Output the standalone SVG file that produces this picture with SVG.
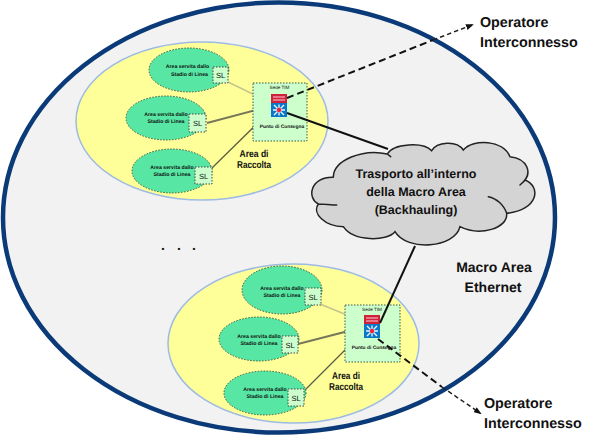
<svg xmlns="http://www.w3.org/2000/svg" width="594" height="444" viewBox="0 0 594 444">
<style>
text{font-family:"Liberation Sans",Arial,sans-serif;fill:#111;text-rendering:geometricPrecision}
.area{fill:#ffff99;stroke:#9dbbe3;stroke-width:1.5}
.serv{fill:#57e6a3;stroke:#3a5a48;stroke-width:1;stroke-dasharray:1.5 1.5}
.sl{fill:#ccffcc;stroke:#444;stroke-width:1;stroke-dasharray:1.5 1.5}
.pop{fill:#ccffcc;stroke:#3a5a48;stroke-width:1;stroke-dasharray:1.5 1.5}
.t5{font-size:5.2px;font-weight:bold;text-anchor:middle}
.tp{font-size:4.9px;font-weight:bold;text-anchor:middle}
.ts{font-size:4.6px;text-anchor:middle}
.t7{font-size:7.5px;text-anchor:middle}
.t10{font-size:10px;font-weight:bold;text-anchor:middle}
.tc{font-size:12.5px;font-weight:bold;text-anchor:middle}
.tm{font-size:14px;font-weight:bold;text-anchor:middle}
.to{font-size:14.300px;font-weight:bold}
.l1{stroke:#c4c48e;stroke-width:1.5;fill:none}
.l2{stroke:#77775a;stroke-width:2;fill:none}
.l3{stroke:#5e5e48;stroke-width:1.3;fill:none}
.k{stroke:#111;stroke-width:2;fill:none}
.d{stroke:#111;stroke-width:2;stroke-dasharray:7 4;fill:none}
.d2{stroke:#222;stroke-width:1.5;stroke-dasharray:4.500 3;fill:none}
.cl{stroke:#222;stroke-width:4.500;fill:none;stroke-linecap:round}
</style>
<defs>
<marker id="arr" markerWidth="8" markerHeight="6" refX="6" refY="3" orient="auto" markerUnits="userSpaceOnUse"><path d="M0 0L8 3L0 6Z" fill="#111"/></marker>
<g id="router">
<rect x="0" y="0" width="16" height="9" fill="#d0203a"/>
<path d="M2 3H14M2 6H14" stroke="#f8d0d6" stroke-width="1"/>
<rect x="0" y="9" width="16" height="14" fill="#0a78c8"/>
<path d="M8 16L3 11M8 16L13 11M8 16L3 21M8 16L13 21M8 16H2M8 16H14M8 16V10.500M8 16V21.500" stroke="#f0f8ff" stroke-width="1.300"/>
<circle cx="8" cy="16" r="2.200" fill="#f0203a"/>
</g>
</defs>
<g id="macro-area">
<ellipse cx="279" cy="217.500" rx="276" ry="215" fill="#f2f2f2" stroke="#0a3a78" stroke-width="4.500"/>
</g>
<g id="area-top"><ellipse class="area" cx="202" cy="121" rx="126" ry="79"/></g>
<g id="area-bottom"><ellipse class="area" cx="293.500" cy="343.500" rx="125.500" ry="79.500"/></g>
<g id="connectors">
<path class="l1" d="M228 82L271 103"/>
<path class="l2" d="M207 123L271 106"/>
<path class="l3" d="M212 168L271 110"/>
<path class="l1" d="M320 304L364 322"/>
<path class="l2" d="M298 344L364 327"/>
<path class="l3" d="M304 391L364 331"/>
</g>
<g id="serv-t1"><ellipse class="serv" cx="189" cy="70" rx="40" ry="22"/><text class="t5" x="187.500" y="68">Area servita dallo</text><text class="t5" x="189.500" y="76">Stadio di Linea</text></g>
<g id="serv-t2"><ellipse class="serv" cx="166" cy="118" rx="40" ry="22"/><text class="t5" x="166" y="116">Area servita dallo</text><text class="t5" x="166" y="123">Stadio di Linea</text></g>
<g id="serv-t3"><ellipse class="serv" cx="172" cy="171" rx="40" ry="22"/><text class="t5" x="172" y="169">Area servita dallo</text><text class="t5" x="172" y="176">Stadio di Linea</text></g>
<g id="sl-t1"><rect class="sl" x="213" y="67" width="15" height="16"/><text class="t7" x="220.500" y="78">SL</text></g>
<g id="sl-t2"><rect class="sl" x="189" y="114" width="17" height="18"/><text class="t7" x="197.500" y="126">SL</text></g>
<g id="sl-t3"><rect class="sl" x="195" y="167" width="17" height="17"/><text class="t7" x="203.500" y="179">SL</text></g>
<g id="pop-top"><rect class="pop" x="253" y="83" width="54" height="58"/><text class="ts" x="279.500" y="89">Sede TIM</text><use href="#router" x="271" y="94"/><text class="tp" x="282" y="128">Punto di Consegna</text></g>
<g id="label-top"><text class="t10" x="254" y="157" textLength="29" lengthAdjust="spacingAndGlyphs">Area di</text><text class="t10" x="254" y="168" textLength="34" lengthAdjust="spacingAndGlyphs">Raccolta</text></g>
<g id="serv-b1"><ellipse class="serv" cx="282" cy="290" rx="40" ry="24"/><text class="t5" x="282" y="290">Area servita dallo</text><text class="t5" x="282" y="297">Stadio di Linea</text></g>
<g id="serv-b2"><ellipse class="serv" cx="259" cy="339" rx="40" ry="22"/><text class="t5" x="259" y="338">Area servita dallo</text><text class="t5" x="259" y="345">Stadio di Linea</text></g>
<g id="serv-b3"><ellipse class="serv" cx="265" cy="393" rx="41" ry="22"/><text class="t5" x="265" y="391">Area servita dallo</text><text class="t5" x="265" y="398">Stadio di Linea</text></g>
<g id="sl-b1"><rect class="sl" x="305" y="288" width="16" height="17"/><text class="t7" x="313" y="300">SL</text></g>
<g id="sl-b2"><rect class="sl" x="282" y="336" width="16" height="17"/><text class="t7" x="290" y="348">SL</text></g>
<g id="sl-b3"><rect class="sl" x="288" y="389" width="16" height="17"/><text class="t7" x="296" y="401">SL</text></g>
<g id="pop-bottom"><rect class="pop" x="345" y="305" width="55" height="57"/><text class="ts" x="372" y="311">Sede TIM</text><use href="#router" x="364" y="315"/><text class="tp" x="374" y="349">Punto di Consegna</text></g>
<g id="label-bottom"><text class="t10" x="346" y="379" textLength="28" lengthAdjust="spacingAndGlyphs">Area di</text><text class="t10" x="346" y="390" textLength="34" lengthAdjust="spacingAndGlyphs">Raccolta</text></g>
<g id="links">
<path class="k" d="M287 113L388 149"/>
<path class="k" d="M380 323L415 246"/>
<path class="d" d="M287 98L433 40"/>
<path class="d2" d="M433 40L472 25" marker-end="url(#arr)"/>
<path class="d" d="M378 339L442 387"/>
<path class="d2" d="M442 387L480 413" marker-end="url(#arr)"/>
</g>
<g id="cloud">
<g transform="translate(300 130) scale(0.3333)">
<path d="M100 142C100 90 190 55 262 72C280 40 370 35 395 62C410 35 470 30 490 60C520 25 610 30 630 80C680 85 705 130 675 150C725 170 715 240 620 250C625 295 540 320 480 290C465 355 320 365 285 305C260 335 160 335 130 290C75 290 35 250 55 222C20 205 30 140 100 142Z" fill="#d4d4d4" stroke="none"/>
<path class="cl" d="M262 72L272 80M100 142C100 90 190 55 262 72C280 40 370 35 395 62C410 35 470 30 490 60C520 25 610 30 630 80C680 85 705 130 660 165M675 150C725 170 715 240 620 250C625 295 540 320 480 290C465 355 320 365 285 305C260 335 160 335 130 290C75 290 35 250 55 222C20 205 30 140 100 142M565 200C590 205 612 225 620 250M55 222C70 222 95 225 110 225"/>
</g>
<text class="tc" x="416" y="178">Trasporto all’interno</text>
<text class="tc" x="416" y="196">della Macro Area</text>
<text class="tc" x="416" y="214">(Backhauling)</text>
</g>
<g id="dots"><text x="161 169 177 185 192" y="249.500" style="font-size:14px;font-weight:bold">. . .</text></g>
<g id="macro-label"><text class="tm" x="494" y="272">Macro Area</text><text class="tm" x="493" y="292">Ethernet</text></g>
<g id="op-top"><text class="to" x="480" y="27">Operatore</text><text class="to" x="480" y="47">Interconnesso</text></g>
<g id="op-bottom"><text class="to" x="484" y="408">Operatore</text><text class="to" x="484" y="428">Interconnesso</text></g>
</svg>
